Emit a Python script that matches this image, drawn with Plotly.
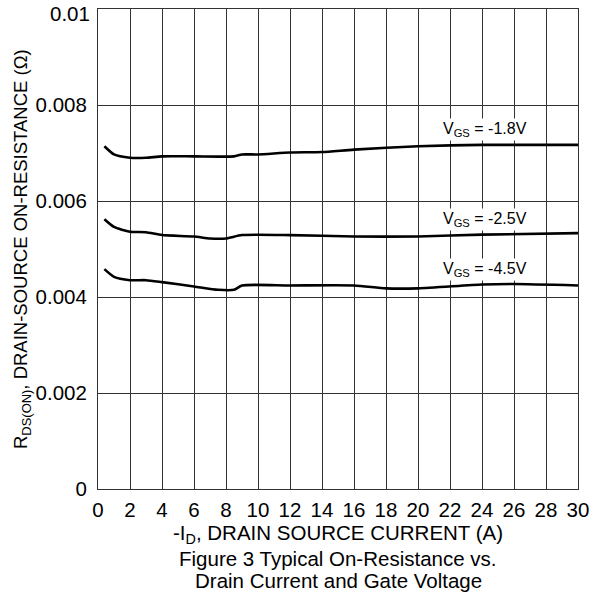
import plotly.graph_objects as go

# Data
x_18 = [0.4, 1.0, 2.0, 3.0, 4.0, 6.0, 8.5, 9.0, 10.0, 12.0, 14.0, 16.0, 20.0, 24.0, 30.0]
r_18 = [0.00714, 0.00697, 0.00690, 0.00690, 0.00693, 0.00693, 0.00693, 0.00697, 0.00697, 0.00701, 0.00702, 0.00707, 0.00714, 0.00717, 0.00717]

x_25 = [0.4, 1.0, 2.0, 3.0, 4.0, 6.0, 7.0, 8.0, 9.0, 12.0, 16.0, 20.0, 24.0, 30.0]
r_25 = [0.00562, 0.00546, 0.00536, 0.00535, 0.00529, 0.00526, 0.00522, 0.00522, 0.00529, 0.00529, 0.00526, 0.00526, 0.00530, 0.00533]

x_45 = [0.4, 1.0, 2.0, 3.0, 4.0, 6.0, 7.5, 8.5, 9.0, 12.0, 16.0, 18.0, 20.0, 24.0, 26.0, 30.0]
r_45 = [0.00458, 0.00442, 0.00435, 0.00435, 0.00431, 0.00422, 0.00415, 0.00415, 0.00424, 0.00424, 0.00424, 0.00418, 0.00418, 0.00426, 0.00427, 0.00424]

labels = ["V<sub>GS</sub> = -1.8V", "V<sub>GS</sub> = -2.5V", "V<sub>GS</sub> = -4.5V"]
label_x = [24.2, 24.2, 24.2]
label_y = [0.0075, 0.005625, 0.004583]

x_ticks = list(range(0, 31, 2))
y_ticks = [0, 0.002, 0.004, 0.006, 0.008]
y_ticktext = ["0", "0.002", "0.004", "0.006", "0.008"]
y_top = 0.01
y_top_text = "0.01"

FONT = "Liberation Sans, Arial, sans-serif"

fig = go.Figure()
for xs, ys in [(x_18, r_18), (x_25, r_25), (x_45, r_45)]:
    fig.add_trace(go.Scatter(x=xs, y=ys, mode="lines",
                             line=dict(color="black", width=2.6, shape="spline", smoothing=0.6),
                             showlegend=False, hoverinfo="skip"))

annotations = []
for t, lx, ly in zip(labels, label_x, label_y):
    annotations.append(dict(x=lx, y=ly, xref="x", yref="y", text=t, showarrow=False,
                            font=dict(family=FONT, size=16, color="black"),
                            bgcolor="white", borderpad=1))

annotations += [
    dict(x=0, y=y_top, xref="paper", yref="y", xanchor="right", yanchor="middle", xshift=-6, yshift=-4,
         text=y_top_text, showarrow=False, font=dict(family=FONT, size=20.5, color="black")),
    dict(x=0.5, y=0, xref="paper", yref="paper", yshift=-45, text="-I<sub>D</sub>, DRAIN SOURCE CURRENT (A)",
         showarrow=False, font=dict(family=FONT, size=20.5, color="black"), yanchor="middle"),
    dict(x=0.5, y=0, xref="paper", yref="paper", yshift=-69, text="Figure 3 Typical On-Resistance vs.",
         showarrow=False, font=dict(family=FONT, size=20.5, color="black"), yanchor="middle"),
    dict(x=0.5, y=0, xref="paper", yref="paper", yshift=-91, text="Drain Current and Gate Voltage",
         showarrow=False, font=dict(family=FONT, size=20.5, color="black"), yanchor="middle"),
    dict(x=0, y=0.5, xref="paper", yref="paper", xshift=-76, textangle=-90,
         text="R<sub>DS(ON)</sub>, DRAIN-SOURCE ON-RESISTANCE (Ω)",
         showarrow=False, font=dict(family=FONT, size=18.5, color="black"), xanchor="center", yanchor="middle"),
]

fig.update_layout(
    width=593, height=596,
    margin=dict(l=98, r=15, t=9, b=107, autoexpand=False),
    paper_bgcolor="white", plot_bgcolor="white",
    annotations=annotations,
    font=dict(family=FONT, color="black"),
)
fig.update_xaxes(range=[0, 30], tickvals=x_ticks, ticks="", showgrid=True, gridcolor="#333", gridwidth=1,
                 showline=True, linecolor="#333", linewidth=1, mirror=True, zeroline=False,
                 tickfont=dict(family=FONT, size=20.5, color="black"), ticklabelstandoff=2,
                 ticklabeloverflow="allow", automargin=False)
fig.update_yaxes(range=[0, 0.01], tickvals=y_ticks, ticktext=y_ticktext, ticks="", showgrid=True,
                 gridcolor="#333", gridwidth=1, showline=True, linecolor="#333", linewidth=1, mirror=True,
                 zeroline=False, tickfont=dict(family=FONT, size=20.5, color="black"), ticklabelstandoff=6,
                 ticklabeloverflow="allow", automargin=False)

fig.write_html("out.html")
